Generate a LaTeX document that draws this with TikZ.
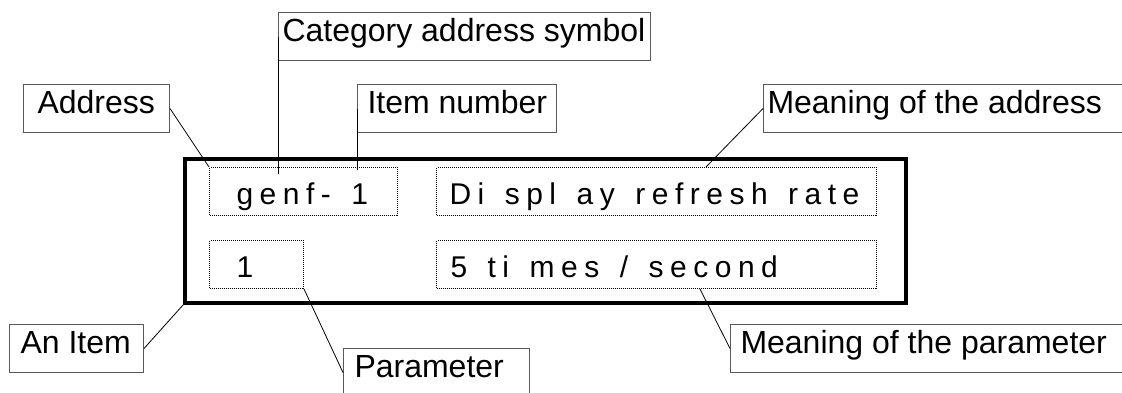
\documentclass[tikz,border=0pt]{standalone}
\usepackage{fontspec}
\newfontfamily\lblfont{Liberation Sans}
\ExplSyntaxOn
\NewDocumentCommand\lcdtext{m}
  { \str_map_inline:nn {#1}
      { \str_if_eq:nnTF {##1} {~} { \hspace*{14pt} } { ##1 \kern 6.5pt } } }
\ExplSyntaxOff
\newcommand{\lb}[3]{\makebox[#1pt][l]{\hspace*{#2pt}#3}}
\tikzset{
  lbl/.style={draw=black!65, line width=1pt, inner sep=0pt, minimum height=48pt,
    anchor=north west, font=\lblfont\fontsize{32}{38}\selectfont, text height=22pt, text depth=12pt},
  dotbox/.style={draw=black, line width=1pt, dash pattern=on 1pt off 1pt, inner sep=0pt,
    minimum height=48pt, anchor=north west, font=\lblfont\fontsize{30}{34}\selectfont,
    text height=26pt, text depth=0pt},
  mainbox/.style={draw=black, line width=4pt, inner sep=0pt, anchor=north west},
  conn/.style={draw=black, line width=0.8pt}
}
\begin{document}
\begin{tikzpicture}[x=1pt,y=-1pt]
\useasboundingbox (0,0) rectangle (1122,392);
\clip (0,0) rectangle (1122,392);
\fill[white] (0,0) rectangle (1122,392);
% main frame
\node[mainbox, minimum width=721pt, minimum height=144pt] (main) at (183,157) {};
% dotted fields
\node[dotbox] (genf) at (209,167) {\lb{188}{27}{\lcdtext{genf- 1}}};
\node[dotbox] (disp) at (436,167) {\lb{440}{13}{\lcdtext{Di spl ay refresh rate}}};
\node[dotbox] (one) at (209,240) {\lb{94}{27}{\lcdtext{1}}};
\node[dotbox] (times) at (436,240) {\lb{440}{14}{\lcdtext{5 ti mes / second}}};
% labels
\node[lbl] (cat) at (278,12) {\lb{372}{4}{Category address symbol}};
\node[lbl] (addr) at (23,84) {\lb{146}{14}{Address}};
\node[lbl] (item) at (357,84) {\lb{199}{10}{Item number}};
\node[lbl] (maddr) at (763,84) {\lb{380}{4}{Meaning of the address}};
\node[lbl] (anitem) at (9,324) {\lb{134}{11}{An Item}};
\node[lbl] (param) at (343,348) {\lb{186}{11}{Parameter}};
\node[lbl] (mparam) at (730,324) {\lb{400}{10}{Meaning of the parameter}};
% connectors
\draw[conn] (addr.east) -- (genf.north west);
\draw[conn] (cat.west) -- ([yshift=-7pt]cat.west |- genf.north);
\draw[conn] (item.west) -- ([yshift=-3pt]item.west |- genf.north);
\draw[conn] (maddr.west) -- ([xshift=270pt]disp.north west);
\draw[conn] (anitem.east) -- (main.south west);
\draw[conn] (one.south east) -- (param.west);
\draw[conn] ([xshift=264pt]times.south west) -- (mparam.west);
\end{tikzpicture}
\end{document}
